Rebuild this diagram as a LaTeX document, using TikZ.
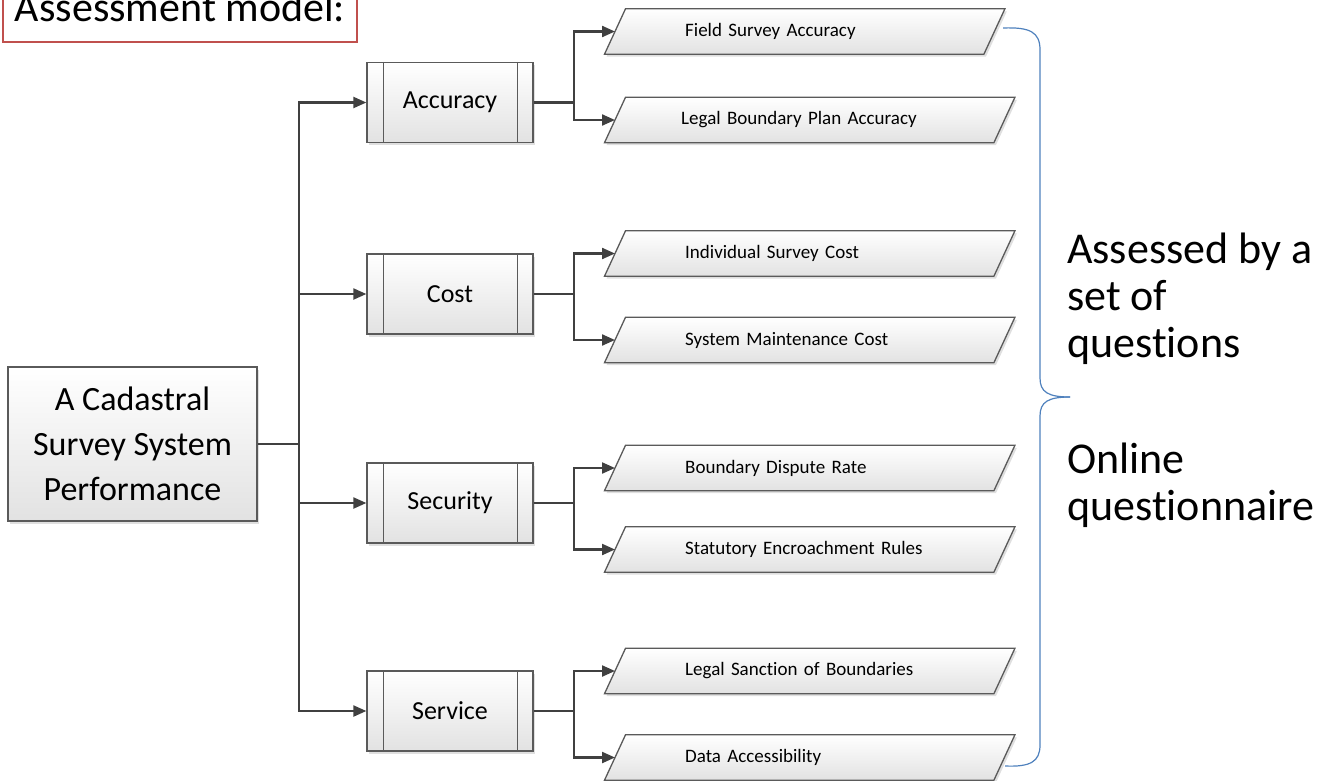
\documentclass[tikz,border=0pt]{standalone}
\usepackage{fontspec}
\setmainfont{Carlito}[Ligatures=NoCommon]
\usetikzlibrary{arrows.meta,shadows,backgrounds}
\definecolor{linec}{HTML}{404040}
\definecolor{borderc}{HTML}{5A5A5A}
\definecolor{redc}{HTML}{C0504D}
\definecolor{bluec}{HTML}{4F81BD}
\definecolor{shadebot}{HTML}{E2E2E2}
\newcommand\paraback[1]{%
  \path[pshape] ([xshift=-10.5pt]#1.south west) -- ([xshift=10.5pt]#1.north west)
    -- ([xshift=10.5pt]#1.north east) -- ([xshift=-10.5pt]#1.south east) -- cycle;}
\begin{document}
\begin{tikzpicture}[x=1pt,y=-1pt,
  conn/.style={draw=linec,line width=2.2pt},
  arr/.style={conn,-{Triangle[length=13pt,width=11pt]}},
  boxlook/.style={draw=borderc,line width=1.3pt,top color=white,bottom color=shadebot,
    drop shadow={shadow xshift=2pt,shadow yshift=-2.5pt,opacity=0.25}},
  mainbox/.style={boxlook,minimum width=249pt,minimum height=154pt,align=center,
    inner sep=0pt,font=\fontsize{34}{45}\selectfont},
  catbox/.style={boxlook,minimum width=166pt,minimum height=80pt,inner sep=0pt,
    font=\fontsize{26}{30}\selectfont},
  pnode/.style={inner sep=0pt,minimum height=45pt,text width=389pt,align=left,
    font=\fontsize{19}{22}\selectfont,anchor=west},
  pshape/.style={boxlook},
  bar/.style={draw=borderc,line width=1.3pt},
  brace/.style={draw=bluec,line width=1.2pt},
  sidetext/.style={anchor=base west,align=left,inner sep=0pt,font=\fontsize{44}{47}\selectfont}]
\useasboundingbox (0,0) rectangle (1327,780);
\clip (0,0) rectangle (1327,780);

% title
\node[draw=redc,line width=2pt,fill=white,minimum width=354pt,minimum height=63pt,
  text height=30pt,text depth=9pt,inner sep=0pt,font=\fontsize{42}{50}\selectfont]
  (title) at (180,10.5) {Assessment model:};

% main box
\node[mainbox] (m) at (132.5,444) {A Cadastral\\Survey System\\Performance};

% categories
\node[catbox] (c1) at (450,102.5) {Accuracy};
\node[catbox] (c2) at (450,294) {Cost};
\node[catbox] (c3) at (450,503) {Security};
\node[catbox] (c4) at (450,711) {Service};
\foreach \c in {c1,c2,c3,c4}{
  \draw[bar] ([xshift=17pt]\c.north west) -- ([xshift=17pt]\c.south west);
  \draw[bar] ([xshift=-16pt]\c.north east) -- ([xshift=-16pt]\c.south east);
}

% leaves
\node[pnode,text width=379pt] (p1) at (615,31.5) {\hspace*{70pt}Field Survey Accuracy};
\node[pnode] (p2) at (615,120) {\hspace*{66pt}Legal Boundary Plan Accuracy};
\node[pnode] (p3) at (615,253.5) {\hspace*{70pt}Individual Survey Cost};
\node[pnode] (p4) at (615,340) {\hspace*{70pt}System Maintenance Cost};
\node[pnode] (p5) at (615,468) {\hspace*{70pt}Boundary Dispute Rate};
\node[pnode] (p6) at (615,549.5) {\hspace*{70pt}Statutory Encroachment Rules};
\node[pnode] (p7) at (615,671) {\hspace*{70pt}Legal Sanction of Boundaries};
\node[pnode] (p8) at (615,757.5) {\hspace*{70pt}Data Accessibility};
\begin{scope}[on background layer]
  \foreach \p in {p1,p2,p3,p4,p5,p6,p7,p8}{\paraback{\p}}
\end{scope}

% connectors
\coordinate (tx) at (299,444);
\draw[conn] (m.east) -- (tx);
\foreach \c in {c1,c2,c3,c4}{\draw[arr] (tx) |- (\c.west);}
\coordinate (bx) at (574,0);
\foreach \c/\a/\b in {c1/p1/p2,c2/p3/p4,c3/p5/p6,c4/p7/p8}{
  \draw[conn] (\c.east) -- (\c.east -| bx);
  \draw[arr] (\c.east -| bx) |- (\a.west);
  \draw[arr] (\c.east -| bx) |- (\b.west);
}

% brace
\draw[brace] (1003,28) .. controls (1030,27) and (1040,32) .. (1040,50) -- (1040,378)
  .. controls (1040,392) and (1048,397) .. (1070,397);
\draw[brace] (1070,397) .. controls (1048,397) and (1040,402) .. (1040,416) -- (1040,745)
  .. controls (1040,762) and (1030,767) .. (1005,766);

% side texts
\node[sidetext] (s1) at (1067,357) {Assessed by a\\set of\\questions};
\node[sidetext] (s2) at (1067,520) {Online\\questionnaire};
\end{tikzpicture}
\end{document}
